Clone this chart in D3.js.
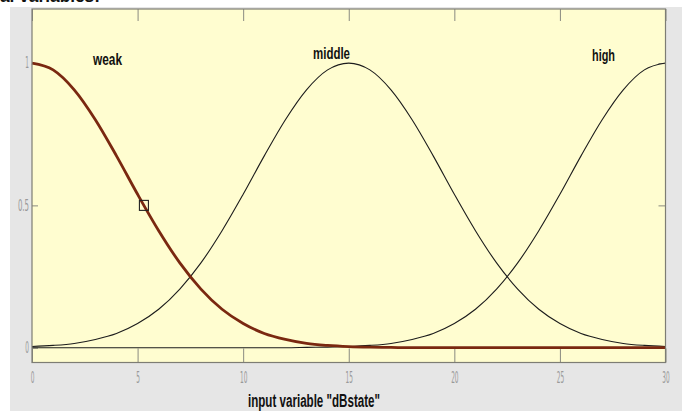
<!DOCTYPE html>
<html>
<head>
<meta charset="utf-8">
<script src="https://cdn.jsdelivr.net/npm/d3@7"></script>
<style>
  body { margin: 0; background: #ffffff; }
  svg { display: block; }
</style>
</head>
<body>
<script>
// Data (membership degree at x = 0,1,...,30)
var xValues = d3.range(0, 31);
var weakValues = [1.000, 0.976, 0.906, 0.801, 0.674, 0.539, 0.411, 0.298, 0.206, 0.135,
                  0.085, 0.050, 0.029, 0.015, 0.008, 0.004, 0.002, 0.001, 0.000, 0.000,
                  0.000, 0.000, 0.000, 0.000, 0.000, 0.000, 0.000, 0.000, 0.000, 0.000, 0.000];
var middleValues = [0.004, 0.008, 0.015, 0.029, 0.050, 0.085, 0.135, 0.206, 0.298, 0.411,
                    0.539, 0.674, 0.801, 0.906, 0.976, 1.000, 0.976, 0.906, 0.801, 0.674,
                    0.539, 0.411, 0.298, 0.206, 0.135, 0.085, 0.050, 0.029, 0.015, 0.008, 0.004];
var highValues = [0.000, 0.000, 0.000, 0.000, 0.000, 0.000, 0.000, 0.000, 0.000, 0.000,
                  0.000, 0.000, 0.000, 0.001, 0.002, 0.004, 0.008, 0.015, 0.029, 0.050,
                  0.085, 0.135, 0.206, 0.298, 0.411, 0.539, 0.674, 0.801, 0.906, 0.976, 1.000];
var mfNames = ["weak", "middle", "high"];
var xTicks = [0, 5, 10, 15, 20, 25, 30];
var yTicks = [0, 0.5, 1];
var markerX = [5.3], markerY = [0.5];
var axisTitle = 'input variable "dBstate"';

// Mått (obs: "top" är reserverat i webbläsaren)
var width = 682, height = 411;
var plotLeft = 32, plotRight = 665.5, plotTop = 9, plotBottom = 362.5;

var svg = d3.select("body").append("svg").attr("width", width).attr("height", height);

// Cut-off text at the very top
svg.append("text").attr("x", 0).attr("y", 1.5)
    .attr("font-family", "Liberation Sans, Arial, sans-serif").attr("font-size", 18)
    .attr("font-weight", "bold").attr("fill", "#111").attr("textLength", 100)
    .attr("lengthAdjust", "spacingAndGlyphs").text("al variables:");

// Gray figure panel
svg.append("rect").attr("x", 10).attr("y", 7).attr("width", width - 10).attr("height", height - 7)
    .attr("fill", "#e6e6e6");

// Skalor
var xScale = d3.scaleLinear().domain([0, 30]).range([plotLeft, plotRight]);
var yScale = d3.scaleLinear().domain([-0.052, 1.19]).range([plotBottom, plotTop]);

// Plot area
svg.append("rect").attr("x", plotLeft).attr("y", plotTop)
    .attr("width", plotRight - plotLeft).attr("height", plotBottom - plotTop)
    .attr("fill", "#fffdd0");

// Axes with inward ticks
function styleAxis(g, showText) {
    g.select(".domain").remove();
    g.selectAll(".tick line").attr("stroke", "#8a8a80");
    if (!showText) { g.selectAll(".tick text").remove(); return; }
    g.selectAll(".tick text")
        .attr("fill", "#999999")
        .attr("font-family", "Liberation Sans Narrow, DejaVu Sans Condensed, sans-serif")
        .attr("font-size", 15)
        .attr("textLength", function(d) { return String(d).length * 3.7; })
        .attr("lengthAdjust", "spacingAndGlyphs");
}

var xAxisBottom = d3.axisBottom(xScale).tickValues(xTicks).tickSizeInner(-14).tickSizeOuter(0).tickPadding(10);
var xAxisTop = d3.axisTop(xScale).tickValues(xTicks).tickSizeInner(-12).tickSizeOuter(0);
var yAxisLeft = d3.axisLeft(yScale).tickValues(yTicks).tickSizeInner(-6).tickSizeOuter(0).tickPadding(3)
    .tickFormat(function(d) { return String(d); });
var yAxisRight = d3.axisRight(yScale).tickValues(yTicks).tickSizeInner(-7).tickSizeOuter(0);

svg.append("g").attr("transform", "translate(0," + plotBottom + ")").call(xAxisBottom).call(styleAxis, true);
svg.append("g").attr("transform", "translate(0," + plotTop + ")").call(xAxisTop).call(styleAxis, false);
svg.append("g").attr("transform", "translate(" + plotLeft + ",0)").call(yAxisLeft).call(styleAxis, true);
svg.append("g").attr("transform", "translate(" + plotRight + ",0)").call(yAxisRight).call(styleAxis, false);

// Kurvor
var line = d3.line()
    .x(function(d) { return xScale(d[0]); })
    .y(function(d) { return yScale(d[1]); })
    .curve(d3.curveMonotoneX);

function points(vals) { return xValues.map(function(x, i) { return [x, vals[i]]; }); }

svg.append("path").attr("d", line(points(middleValues)))
    .attr("fill", "none").attr("stroke", "#1c1c1c").attr("stroke-width", 1.1);
svg.append("path").attr("d", line(points(highValues)))
    .attr("fill", "none").attr("stroke", "#1c1c1c").attr("stroke-width", 1.1);
svg.append("path").attr("d", line(points(weakValues)))
    .attr("fill", "none").attr("stroke", "#7a2810").attr("stroke-width", 2.8)
    .attr("stroke-linejoin", "round");

// Selected point marker
svg.selectAll(".marker").data(markerX).enter().append("rect")
    .attr("x", function(d) { return xScale(d) - 4.5; })
    .attr("y", function(d, i) { return yScale(markerY[i]) - 5; })
    .attr("width", 9).attr("height", 10)
    .attr("fill", "none").attr("stroke", "#222").attr("stroke-width", 1.1);

// Plot border on top
svg.append("rect").attr("x", plotLeft).attr("y", plotTop)
    .attr("width", plotRight - plotLeft).attr("height", plotBottom - plotTop)
    .attr("fill", "none").attr("stroke", "#7d7d74").attr("stroke-width", 1.2);

// MF labels
var labelPos = [{x: 107.5, y: 65, w: 29}, {x: 331.5, y: 59, w: 37}, {x: 603.5, y: 61, w: 23}];
svg.selectAll(".mflabel").data(mfNames).enter().append("text")
    .attr("x", function(d, i) { return labelPos[i].x; })
    .attr("y", function(d, i) { return labelPos[i].y; })
    .attr("text-anchor", "middle")
    .attr("font-family", "Liberation Sans, Arial, sans-serif")
    .attr("font-size", 17).attr("font-weight", "bold").attr("fill", "#111")
    .attr("textLength", function(d, i) { return labelPos[i].w; })
    .attr("lengthAdjust", "spacingAndGlyphs")
    .text(function(d) { return d; });

// X-axel titel
svg.append("text").attr("x", 314).attr("y", 407).attr("text-anchor", "middle")
    .attr("font-family", "Liberation Sans, Arial, sans-serif")
    .attr("font-size", 18).attr("font-weight", "bold").attr("fill", "#111")
    .attr("textLength", 132).attr("lengthAdjust", "spacingAndGlyphs")
    .text(axisTitle);
</script>
</body>
</html>
